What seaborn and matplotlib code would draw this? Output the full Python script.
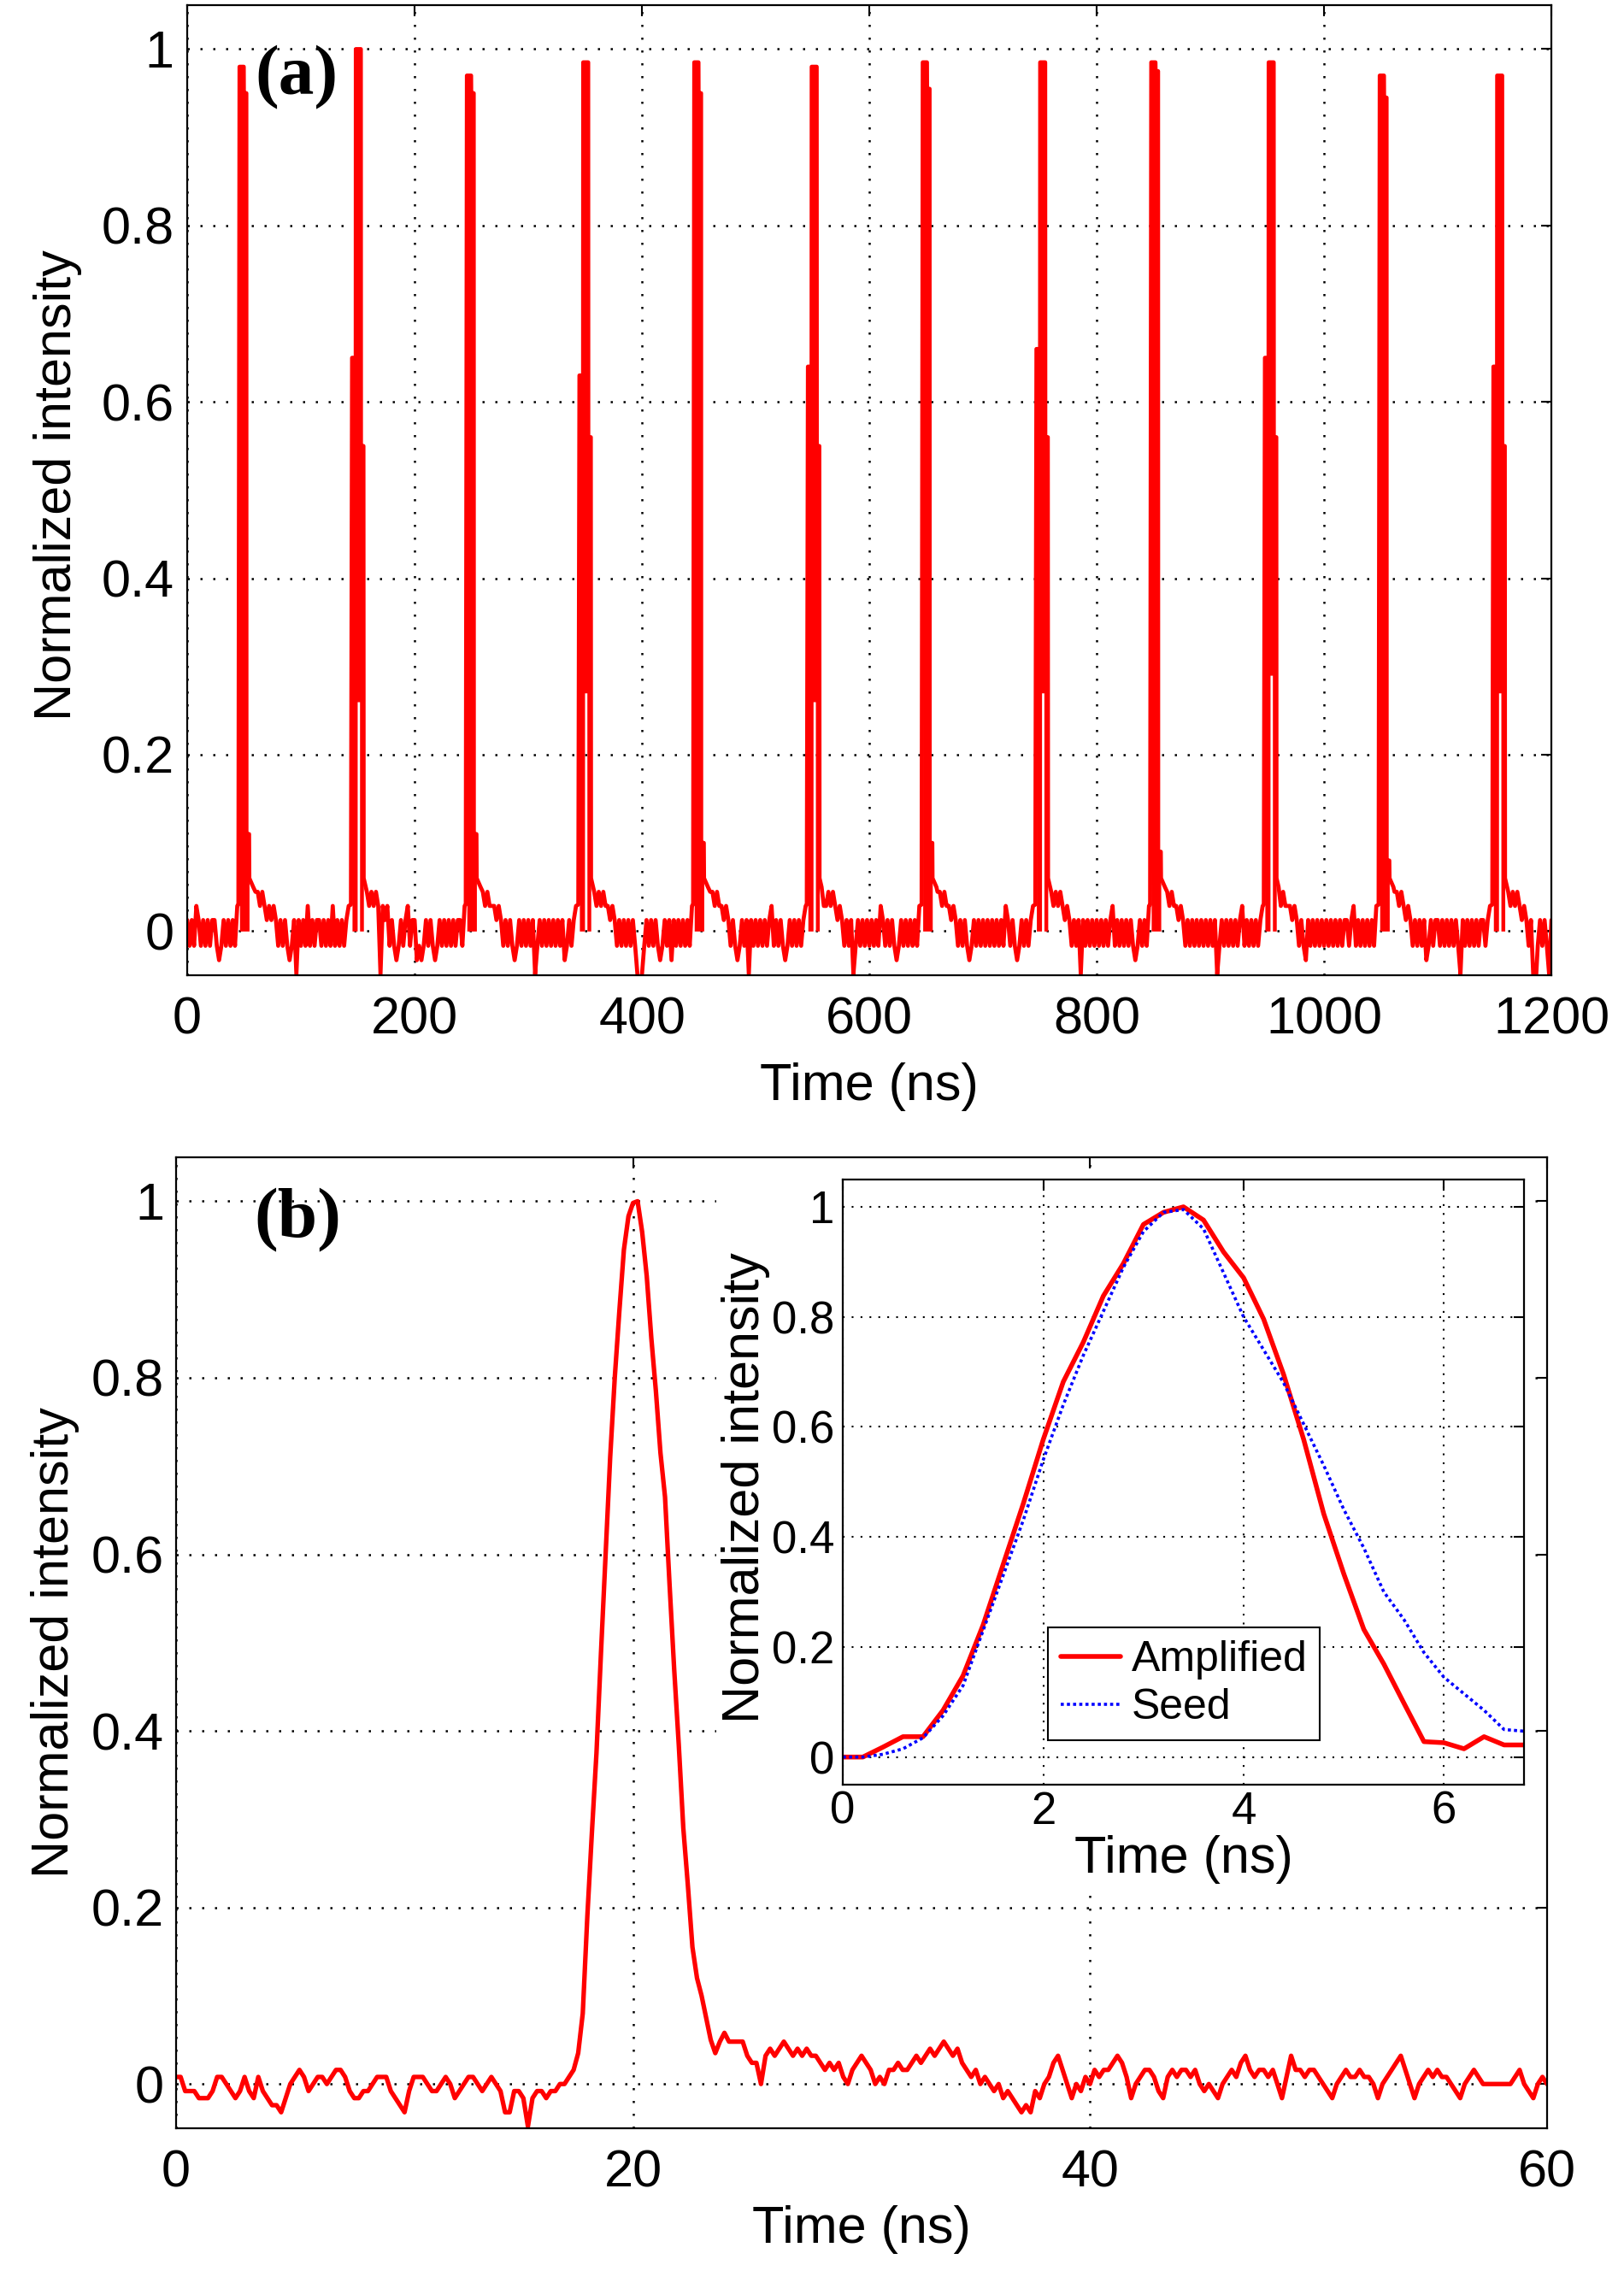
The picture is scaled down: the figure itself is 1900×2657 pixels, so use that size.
import numpy as np
import pandas as pd
import matplotlib
matplotlib.use("Agg")
import matplotlib.pyplot as plt
import seaborn as sns
from matplotlib.patches import Rectangle

# ---------------- panel (a): pulse train, 0-1200 ns ----------------
# baseline noise, one character per 2 ns sample; the character picks a level below
A_NOISE = [
    "4343543434" "3443234343" "435" "444444" "6665654545" "43434323414",
    "3435343443" "4343534343" "45" "4444444" "6565651545" "34323434534",
    "4232343432" "3434343434" "435" "444444" "6656555454" "34343234343",
    "4341343434" "3434342343" "45" "4444444" "6565655454" "34343434310",
    "1343434323" "4342434343" "435" "444444" "6665655454" "34323434143",
    "4343434534" "3432343434" "345" "444444" "6556565454" "34341343434",
    "3434354343" "4323434343" "435" "4444444" "665655454" "34343234343",
    "4343434343" "5434323434" "345" "4444444" "656565454" "34341434343",
    "4343434534" "3434343234" "3435" "444444" "665655454" "34343434343",
    "4341343434" "3434534343" "4345" "444444" "656555454" "34324343434",
    "3434343434" "4345343434" "3435" "4444444" "66565454" "34343423434",
    "4343434343" "1434343434" "4345" "4444444" "65656545" "43410343431",
]
A_NOISE_END = "4"
A_SAMPLE_NS = 2.0
A_LEVELS = {"0": -0.065, "1": -0.049, "2": -0.033, "3": -0.0167,
            "4": 0.0125, "5": 0.0285, "6": 0.0445, "7": 0.06}

A_RISE = [46, 145, 246, 345, 446, 546, 647, 747, 848, 948, 1049, 1149]
A_KIND = ["A", "B", "A", "B", "A", "B", "A", "B", "A", "B", "A", "B"]
A_PEAK = [0.98, 1.0, 0.97, 0.985, 0.985, 0.98, 0.985, 0.985, 0.985, 0.985, 0.97, 0.97]
A_SHOULDER = [0.95, 0.55, 0.95, 0.56, 0.95, 0.55, 0.955, 0.56, 0.975, 0.56, 0.945, 0.55]
A_STEP = [0, 0.65, 0, 0.63, 0, 0.64, 0, 0.66, 0, 0.65, 0, 0.64]
A_NOTCH = [0, 0.26, 0, 0.27, 0, 0.26, 0, 0.27, 0, 0.29, 0, 0.27]
A_TAIL = [0.11, 0, 0.11, 0, 0.10, 0, 0.10, 0, 0.09, 0, 0.08, 0]
# envelope sample times (ns after rise) of the two pulse shapes
A_REL_A = [0, 3.7, 3.8, 6.0, 6.1, 8.4]      # top: h, h, s, s, tail, tail
A_REL_B = [0, 3.2, 3.3, 7.7, 7.8, 10.0]     # top: p, p, h, h, s, s
A_NOTCH_REL = [4.5, 6.6]                    # white notch of type-B pulses

# ---------------- panel (b): single pulse, 0-60 ns, 0.2 ns samples ----------------
B_SAMPLE_NS = 0.2
B_ALPHABET = "ABCDEFGHIJKLMN"      # level = (index - 6) * 0.008
B_LEVEL = 0.008
B_PRE = ("HHFFFEEEFH" "HGFEFHFEHF" "EDDCEGHIHF" "GHHGHIIHFE" "EFFGHHHFED"
         "CFHHHGFFGH" "GEFGHHGFGH" "GFCCFFEAEF" "FEFFGGHI")
B_PULSE = [0.035, 0.08, 0.19, 0.285, 0.375, 0.49, 0.60, 0.71, 0.80, 0.875,
           0.945, 0.983, 0.998, 1.0, 0.965, 0.915, 0.845, 0.785, 0.715, 0.665,
           0.565, 0.47, 0.385, 0.29, 0.225, 0.155, 0.12, 0.10, 0.075, 0.05,
           0.035, 0.048, 0.058]
B_POST = ("MMMMKJJGKL" "KLMLKLKLKK" "JIJIJHGIJK" "JIGHGIIJII" "JKJKLKLMLK"
          "LJIHIGHGFG" "EFEDCDCFEG" "HJKIGEGFHG" "IHIIJKJHEG" "HIIHFEHIHI"
          "IHIGFGFEGH" "IHJKIHIIHI" "GEHKIIHIIH" "GFEGHIHHIH" "HGEGHIJKIG"
          "EGHIHIHHGF" "EGHIHGGGGG" "GGHIGFEGHG")

# ---------------- inset: amplified vs seed, 0-6.8 ns ----------------
IN_SAMPLE_NS = 0.2
IN_AMPLIFIED = [0.0, 0.0, 0.018, 0.037, 0.037, 0.085, 0.148, 0.24, 0.35, 0.46,
                0.577, 0.682, 0.754, 0.838, 0.897, 0.968, 0.99, 1.0, 0.976, 0.918,
                0.871, 0.796, 0.695, 0.577, 0.442, 0.333, 0.232, 0.169, 0.098, 0.028,
                0.026, 0.015, 0.037, 0.022, 0.022]
IN_SEED = [0.0, 0.0, 0.005, 0.015, 0.035, 0.075, 0.13, 0.23, 0.33, 0.43,
           0.54, 0.64, 0.73, 0.81, 0.89, 0.955, 0.99, 0.995, 0.96, 0.88,
           0.80, 0.74, 0.68, 0.605, 0.53, 0.45, 0.38, 0.30, 0.25, 0.19,
           0.145, 0.115, 0.085, 0.05, 0.047]
IN_LABELS = ["Amplified", "Seed"]

Y_TICKS = [0, 0.2, 0.4, 0.6, 0.8, 1.0]
Y_TICKLABELS = ["0", "0.2", "0.4", "0.6", "0.8", "1"]
A_XTICKS = [0, 200, 400, 600, 800, 1000, 1200]
B_XTICKS = [0, 20, 40, 60]
IN_XTICKS = [0, 2, 4, 6]

RED = "#ff0000"
BLUE = "#0000ff"

# ---------------- build tables ----------------
codes = "".join(A_NOISE) + A_NOISE_END
t_pts = [i * A_SAMPLE_NS for i in range(len(codes))]
v_pts = [A_LEVELS[c] for c in codes]
keep = [not any(r - 1.5 <= tt <= r + 12.5 for r in A_RISE) for tt in t_pts]
ta = [tt for tt, k in zip(t_pts, keep) if k]
va = [vv for vv, k in zip(v_pts, keep) if k]
fills = []
for r, kind, h, s, p, n, tl in zip(A_RISE, A_KIND, A_PEAK, A_SHOULDER,
                                   A_STEP, A_NOTCH, A_TAIL):
    if kind == "A":
        rel, top = A_REL_A, [h, h, s, s, tl, tl]
        fx = list(rel)
        fb = [0.0] * len(fx)
    else:
        rel, top = A_REL_B, [p, p, h, h, s, s]
        n0, n1 = A_NOTCH_REL
        fx = [0, 3.2, 3.3, n0, n0 + 0.05, n1, n1 + 0.05, 7.7, 7.8, 10.0]
        fb = [0, 0, 0, 0, n, n, 0, 0, 0, 0]
    ft = list(np.interp(fx, rel, top))
    fills.append(([r + x for x in fx], fb, ft))
    ta += [r - 1] + [r + x for x in rel] + [r + rel[-1] + 0.2, r + 12]
    va += [0.03] + top + [0.06, 0.05]
df_a = pd.DataFrame({"t": ta, "v": va}).sort_values("t").reset_index(drop=True)

b_vals = ([(B_ALPHABET.index(c) - 6) * B_LEVEL for c in B_PRE] + B_PULSE +
          [(B_ALPHABET.index(c) - 6) * B_LEVEL for c in B_POST])
df_b = pd.DataFrame({"t": np.arange(len(b_vals)) * B_SAMPLE_NS, "v": b_vals})

t_in = np.arange(len(IN_AMPLIFIED)) * IN_SAMPLE_NS
df_in = pd.DataFrame({"t": np.concatenate([t_in, t_in]),
                      "v": IN_AMPLIFIED + IN_SEED,
                      "trace": [IN_LABELS[0]] * len(t_in) + [IN_LABELS[1]] * len(t_in)})

# ---------------- styling ----------------
sns.set_theme(style="white")
plt.rcParams['font.family'] = ['Liberation Sans', 'DejaVu Sans']
plt.rcParams['axes.edgecolor'] = 'black'
plt.rcParams['axes.linewidth'] = 1.6
plt.rcParams['text.color'] = 'black'
plt.rcParams['axes.labelcolor'] = 'black'
plt.rcParams['xtick.color'] = 'black'
plt.rcParams['ytick.color'] = 'black'

fig = plt.figure(figsize=(19, 26.57), dpi=100)
fig.patch.set_facecolor('white')
ax_a = fig.add_axes([0.1153, 0.5706, 0.8400, 0.4272])
ax_b = fig.add_axes([0.1084, 0.0629, 0.8442, 0.4276])
ax_in = fig.add_axes([0.5190, 0.2142, 0.4195, 0.2665])
ax_in.set_zorder(3)

# white block hiding the main-panel grid behind the inset and its labels
fig.add_artist(Rectangle((838 / 1900, 1 - 2215 / 2657), (1795 - 838) / 1900,
                         (2215 - 1368) / 2657, transform=fig.transFigure,
                         facecolor='white', edgecolor='none', zorder=1))


def style_axes(ax, xticks, xlim, tick_fs, xpad, ypad, dots, glw):
    ax.set_xlim(*xlim)
    ax.set_ylim(-0.05, 1.05)
    ax.set_xticks(xticks)
    ax.set_xticklabels([str(x) for x in xticks])
    ax.set_yticks(Y_TICKS)
    ax.set_yticklabels(Y_TICKLABELS)
    ax.grid(True, color='black', linestyle=(0, dots), linewidth=glw)
    ax.set_axisbelow(True)
    ax.tick_params(axis='both', direction='in', length=9, width=1.5,
                   top=True, right=True, labelsize=tick_fs)
    ax.tick_params(axis='x', pad=xpad)
    ax.tick_params(axis='y', pad=ypad)
    for sp in ax.spines.values():
        sp.set_color('black')
        sp.set_linewidth(1.6)
        sp.set_visible(True)
    ax.set_facecolor('white')


# panel (a)
sns.lineplot(data=df_a, x="t", y="v", ax=ax_a, color=RED, linewidth=3.4,
             estimator=None, sort=False)
for fx, fb, ft in fills:
    ax_a.fill_between(fx, fb, ft, color=RED, linewidth=0)
style_axes(ax_a, A_XTICKS, (0, 1200), 44, 18, 11, (1, 5), 1.8)
ax_a.set_xlabel("Time (ns)", fontsize=44)
ax_a.set_ylabel("Normalized intensity", fontsize=44)
ax_a.xaxis.set_label_coords(0.5, -0.09)
ax_a.yaxis.set_label_coords(-0.077, 0.505)
ax_a.text(0.05, 0.925, "(a)", transform=ax_a.transAxes, fontsize=60,
          fontweight='bold', family=['Liberation Serif', 'DejaVu Serif'],
          ha='left', va='center')

# panel (b)
sns.lineplot(data=df_b, x="t", y="v", ax=ax_b, color=RED, linewidth=3.8,
             estimator=None, sort=False)
style_axes(ax_b, B_XTICKS, (0, 60), 44, 18, 10, (1, 5), 1.8)
ax_b.set_xlabel("Time (ns)", fontsize=44)
ax_b.set_ylabel("Normalized intensity", fontsize=44)
ax_b.xaxis.set_label_coords(0.5, -0.079)
ax_b.yaxis.set_label_coords(-0.0705, 0.5)
ax_b.text(0.057, 0.935, "(b)", transform=ax_b.transAxes, fontsize=60,
          fontweight='bold', family=['Liberation Serif', 'DejaVu Serif'],
          ha='left', va='center')

# inset
sns.lineplot(data=df_in[df_in.trace == IN_LABELS[0]], x="t", y="v", ax=ax_in,
             color=RED, linewidth=4.0, estimator=None, sort=False,
             label=IN_LABELS[0])
sns.lineplot(data=df_in[df_in.trace == IN_LABELS[1]], x="t", y="v", ax=ax_in,
             color=BLUE, linewidth=2.6, estimator=None, sort=False,
             label=IN_LABELS[1])
ax_in.lines[-1].set_linestyle((0, (1, 1)))
style_axes(ax_in, IN_XTICKS, (0, 6.8), 38, 5, 7, (1, 4), 1.5)
ax_in.set_xlabel("Time (ns)", fontsize=44)
ax_in.set_ylabel("Normalized intensity", fontsize=44)
ax_in.xaxis.set_label_coords(0.5, -0.083)
ax_in.yaxis.set_label_coords(-0.107, 0.49)
leg = ax_in.legend(loc='lower left', bbox_to_anchor=(0.301, 0.073),
                   borderaxespad=0, fontsize=36, frameon=True, fancybox=False,
                   framealpha=1, edgecolor='black', handlelength=1.4,
                   handletextpad=0.25, labelspacing=0.2, borderpad=0.3)
leg.get_frame().set_linewidth(1.5)
leg.get_lines()[1].set_linestyle((0, (1, 1)))

fig.savefig("out.png", dpi=100, facecolor='white')
